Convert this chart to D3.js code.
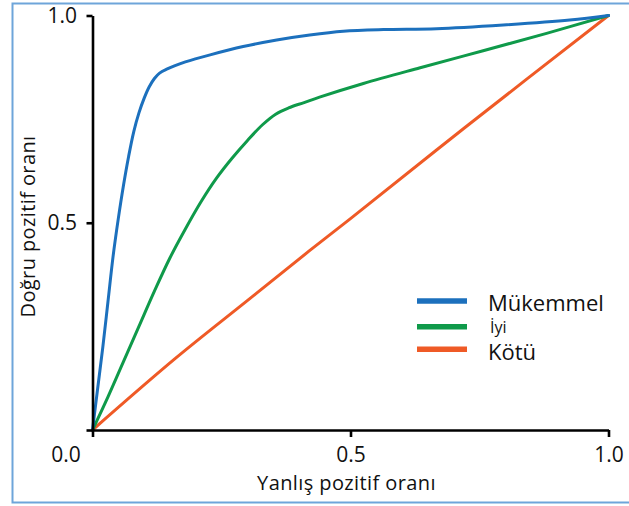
<!DOCTYPE html>
<html>
<head>
<meta charset="utf-8">
<script src="https://cdn.jsdelivr.net/npm/d3@7/dist/d3.min.js"></script>
<style>
  html, body { margin: 0; padding: 0; background: #fff; }
  svg { display: block; font-family: "Open Sans", "DejaVu Sans", sans-serif; }
</style>
</head>
<body>
<svg id="chart" width="629" height="506"></svg>
<script>
// ---- Data ----
const seriesNames = ["Mükemmel", "İyi", "Kötü"];
const seriesColors = ["#1c70bd", "#0f9a4a", "#ef5a26"];

const mukemmelFPR = [0, 0.01, 0.02, 0.03, 0.04, 0.05, 0.06, 0.07, 0.08, 0.09, 0.10, 0.11, 0.12, 0.13, 0.145, 0.16, 0.18, 0.228, 0.292, 0.357, 0.421, 0.486, 0.564, 0.667, 0.796, 0.925, 1];
const mukemmelTPR = [0, 0.10, 0.20, 0.31, 0.42, 0.51, 0.59, 0.66, 0.72, 0.765, 0.80, 0.828, 0.848, 0.861, 0.871, 0.879, 0.888, 0.905, 0.925, 0.941, 0.953, 0.962, 0.966, 0.968, 0.977, 0.989, 1];

const iyiFPR = [0, 0.03, 0.06, 0.09, 0.12, 0.15, 0.18, 0.21, 0.24, 0.27, 0.30, 0.33, 0.355, 0.38, 0.41, 0.44, 0.525, 0.635, 0.757, 0.88, 1];
const iyiTPR = [0, 0.08, 0.165, 0.25, 0.335, 0.415, 0.485, 0.55, 0.607, 0.655, 0.698, 0.737, 0.762, 0.777, 0.79, 0.803, 0.836, 0.874, 0.915, 0.957, 1];

const kotuFPR = [0, 0.16, 0.30, 0.42, 0.50, 0.72, 1];
const kotuTPR = [0, 0.172, 0.312, 0.432, 0.510, 0.728, 1];

const tickValues = [0, 0.5, 1];
const tickLabels = ["0.0", "0.5", "1.0"];
const xTitle = "Yanlış pozitif oranı";
const yTitle = "Doğru pozitif oranı";

// ---- Chart ----
const svg = d3.select("#chart");

// light blue frame (open on the right)
svg.append("path")
  .attr("d", "M640,3.5 H12.5 V502.5 H640")
  .attr("fill", "none")
  .attr("stroke", "#6ea5da")
  .attr("stroke-width", 2);

const x = d3.scaleLinear().domain([0, 1]).range([92.5, 608.5]);
const y = d3.scaleLinear().domain([0, 1]).range([430, 15.5]);

const zip = (a, b) => a.map((v, i) => [v, b[i]]);
const series = [
  zip(mukemmelFPR, mukemmelTPR),
  zip(iyiFPR, iyiTPR),
  zip(kotuFPR, kotuTPR)
];

const line = d3.line()
  .x(d => x(d[0]))
  .y(d => y(d[1]))
  .curve(d3.curveCatmullRom.alpha(0.5));

// draw Kötü first, then İyi, then Mükemmel
[2, 1, 0].forEach(i => {
  svg.append("path")
    .datum(series[i])
    .attr("fill", "none")
    .attr("stroke", seriesColors[i])
    .attr("stroke-width", 3)
    .attr("stroke-linejoin", "round")
    .attr("stroke-linecap", "round")
    .attr("d", line);
});

// axes
const xAxis = d3.axisBottom(x)
  .tickValues(tickValues)
  .tickFormat((d, i) => tickLabels[i])
  .tickSizeInner(7)
  .tickSizeOuter(0)
  .tickPadding(10);

const yAxis = d3.axisLeft(y)
  .tickValues(tickValues)
  .tickFormat((d, i) => i === 0 ? "" : tickLabels[i])
  .tickSizeInner(6)
  .tickSizeOuter(0)
  .tickPadding(9.5);

const gx = svg.append("g").attr("transform", `translate(0,${y(0)})`).call(xAxis);
const gy = svg.append("g").attr("transform", `translate(${x(0)},0)`).call(yAxis);

[gx, gy].forEach(g => {
  g.select(".domain").attr("stroke", "#000").attr("stroke-width", 2.6);
  g.selectAll(".tick line").attr("stroke", "#000").attr("stroke-width", 2.6);
  g.selectAll(".tick text")
    .attr("fill", "#111")
    .style("font-size", "21px")
    .style("font-family", "'Open Sans', sans-serif");
});
// origin label sits to the lower-left of the origin
gx.selectAll(".tick").filter(d => d === 0).select("text").attr("x", -27);

// axis titles
svg.append("text")
  .attr("x", 346.5)
  .attr("y", 490)
  .attr("text-anchor", "middle")
  .style("font-size", "20px")
  .style("letter-spacing", "0.4px")
  .attr("fill", "#111")
  .text(xTitle);

svg.append("text")
  .attr("transform", "translate(34.5,226.5) rotate(-90)")
  .attr("text-anchor", "middle")
  .style("font-size", "20px")
  .style("letter-spacing", "0.4px")
  .attr("fill", "#111")
  .text(yTitle);

// legend
const legendLineY = [301, 326.7, 349.3];
const legendTextY = [311, 333, 360];
const legendFont = [22, 16, 22];
const legendTextX = [488, 490, 488];

seriesNames.forEach((name, i) => {
  svg.append("line")
    .attr("x1", 417).attr("x2", 467)
    .attr("y1", legendLineY[i]).attr("y2", legendLineY[i])
    .attr("stroke", seriesColors[i])
    .attr("stroke-width", 5.5);
  svg.append("text")
    .attr("x", legendTextX[i])
    .attr("y", legendTextY[i])
    .style("font-size", legendFont[i] + "px")
    .attr("fill", "#111")
    .text(name);
});
</script>
</body>
</html>
